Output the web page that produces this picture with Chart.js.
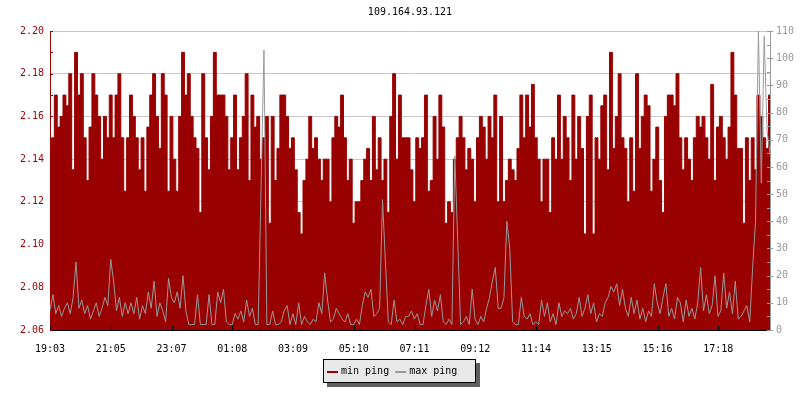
<!DOCTYPE html>
<html>
<head>
<meta charset="utf-8">
<script src="https://cdn.jsdelivr.net/npm/chart.js@4"></script>
<style>
  html, body { margin: 0; padding: 0; background: #fff; }
</style>
</head>
<body>
<canvas id="ping" width="800" height="400"></canvas>
<script>
// donnees
const titre = '109.164.93.121';
const seriesNames = ['min ping', 'max ping'];
const tickLabels = ['19:03', '21:05', '23:07', '01:08', '03:09', '05:10', '07:11', '09:12', '11:14', '13:15', '15:16', '17:18'];

// min ping (echelle de gauche)
const minPing = [
  2.145, 2.15, 2.17, 2.155, 2.16, 2.17, 2.165, 2.18, 2.135, 2.19, 2.17, 2.18, 2.15, 2.13, 2.155, 2.18, 2.17, 2.16, 2.14, 2.16, 2.15, 2.17, 2.15, 2.17, 2.18, 2.15, 2.125, 2.15,
  2.17, 2.16, 2.15, 2.135, 2.15, 2.125, 2.155, 2.17, 2.18, 2.16, 2.145, 2.18, 2.17, 2.125, 2.16, 2.14, 2.125, 2.16, 2.19, 2.17, 2.18, 2.16, 2.15, 2.145, 2.115, 2.18, 2.15, 2.135, 2.16, 2.19, 2.17, 2.17,
  2.17, 2.16, 2.135, 2.15, 2.17, 2.135, 2.15, 2.16, 2.18, 2.13, 2.17, 2.155, 2.16, 2.14, 2.15, 2.16, 2.11, 2.16, 2.13, 2.145, 2.17, 2.17, 2.16, 2.145, 2.15, 2.135, 2.115, 2.105, 2.13, 2.14, 2.16, 2.145,
  2.15, 2.14, 2.13, 2.14, 2.14, 2.12, 2.15, 2.16, 2.155, 2.17, 2.15, 2.13, 2.14, 2.11, 2.12, 2.12, 2.13, 2.14, 2.145, 2.13, 2.16, 2.135, 2.15, 2.13, 2.14, 2.115, 2.16, 2.18, 2.14, 2.17, 2.15, 2.15,
  2.15, 2.135, 2.12, 2.15, 2.145, 2.15, 2.17, 2.125, 2.13, 2.16, 2.14, 2.17, 2.155, 2.11, 2.12, 2.115, 2.14, 2.15, 2.16, 2.15, 2.135, 2.145, 2.14, 2.12, 2.15, 2.16, 2.155, 2.14, 2.16, 2.15, 2.17, 2.12,
  2.16, 2.12, 2.13, 2.14, 2.135, 2.13, 2.145, 2.17, 2.15, 2.17, 2.155, 2.175, 2.15, 2.14, 2.12, 2.14, 2.14, 2.115, 2.15, 2.14, 2.17, 2.14, 2.16, 2.15, 2.13, 2.17, 2.14, 2.16, 2.145, 2.105, 2.16, 2.17,
  2.105, 2.15, 2.14, 2.165, 2.17, 2.135, 2.19, 2.145, 2.16, 2.18, 2.15, 2.145, 2.12, 2.15, 2.125, 2.18, 2.145, 2.16, 2.17, 2.165, 2.125, 2.14, 2.155, 2.13, 2.115, 2.16, 2.17, 2.17, 2.165, 2.18, 2.15, 2.135,
  2.15, 2.14, 2.13, 2.15, 2.16, 2.155, 2.16, 2.15, 2.14, 2.175, 2.13, 2.155, 2.16, 2.15, 2.14, 2.155, 2.19, 2.17, 2.145, 2.145, 2.11, 2.15, 2.13, 2.15, 2.135, 2.17, 2.16, 2.15, 2.145, 2.17
];

// max ping (echelle de droite)
const maxPing = [
  7, 13, 6, 9, 5, 8, 10, 6, 12, 25, 8, 11, 6, 9, 4, 7, 10, 5, 8, 12, 9, 26, 18, 7, 12, 5, 10, 6,
  10, 6, 12, 4, 9, 6, 14, 8, 18, 5, 10, 7, 3, 19, 12, 10, 14, 8, 20, 7, 2, 2, 2, 13, 2, 2, 2, 13, 2, 2, 14, 10,
  15, 3, 2, 2, 6, 4, 7, 3, 11, 5, 8, 2, 2, 53, 103, 2, 2, 7, 2, 2, 3, 7, 9, 2, 6, 2, 10, 2, 5, 3, 2, 4,
  3, 10, 6, 21, 11, 3, 4, 8, 6, 4, 3, 6, 2, 2, 4, 2, 9, 14, 12, 15, 5, 6, 8, 48, 25, 3, 2, 11, 3, 4, 2, 5,
  5, 7, 4, 6, 2, 2, 9, 15, 5, 11, 7, 13, 3, 2, 4, 2, 64, 33, 2, 3, 5, 2, 15, 4, 2, 5, 3, 8, 12, 18, 23, 8,
  8, 12, 40, 30, 3, 2, 2, 12, 5, 4, 6, 2, 3, 2, 11, 5, 10, 3, 6, 2, 10, 5, 7, 6, 8, 4, 6, 12, 5, 8, 13, 6,
  10, 3, 6, 5, 10, 12, 16, 14, 17, 9, 15, 8, 5, 12, 6, 11, 4, 8, 3, 7, 5, 17, 10, 6, 12, 17, 5, 8, 4, 12, 10, 3,
  11, 5, 8, 4, 10, 23, 7, 13, 6, 9, 20, 5, 7, 21, 8, 14, 6, 18, 4, 5, 7, 9, 3, 23, 40, 110, 54, 108, 73, 65
];

// 24 h en minutes depuis 19:03, un libelle toutes les ~121,5 min
const spanMin = 1440;
const tickStep = 121.5;
const pas = spanMin / (minPing.length - 1);

const minPts = minPing.map((v, i) => ({ x: i * pas, y: v }));
const maxPts = maxPing.map((v, i) => ({ x: i * pas, y: v }));

const rouge = '#990000';
const gris = '#999999';
const police = { family: "'DejaVu Sans Mono', monospace", size: 10 };

// titre, petites graduations interieures et legende encadree
const decor = {
  id: 'decor',
  afterDraw(chart) {
    const { ctx, chartArea: a, scales } = chart;
    ctx.save();
    ctx.font = "10px 'DejaVu Sans Mono', monospace";
    ctx.fillStyle = '#000';
    ctx.textAlign = 'center';
    ctx.textBaseline = 'middle';
    ctx.fillText(titre, (a.left + a.right) / 2, 12);

    ctx.lineWidth = 1;
    ctx.strokeStyle = rouge;
    ctx.beginPath();
    for (let v = 206; v <= 220; v++) {
      const y = Math.round(scales.y.getPixelForValue(v / 100)) + 0.5;
      ctx.moveTo(a.left, y);
      ctx.lineTo(a.left + 3, y);
    }
    ctx.stroke();

    ctx.strokeStyle = gris;
    ctx.beginPath();
    for (let v = 0; v <= 110; v += 5) {
      const y = Math.round(scales.y1.getPixelForValue(v)) + 0.5;
      ctx.moveTo(a.right - 3, y);
      ctx.lineTo(v % 10 === 0 ? a.right + 3 : a.right, y);
    }
    ctx.stroke();

    ctx.strokeStyle = '#000';
    ctx.beginPath();
    tickLabels.forEach((t, i) => {
      const x = Math.round(scales.x.getPixelForValue(i * tickStep)) + 0.5;
      ctx.moveTo(x, a.bottom);
      ctx.lineTo(x, a.bottom - 4);
    });
    ctx.stroke();

    // legende
    const lx = 323, ly = 359, lw = 153, lh = 24;
    ctx.fillStyle = '#5f5f5f';
    ctx.fillRect(lx + 4, ly + 4, lw, lh);
    ctx.fillStyle = '#e8e8e8';
    ctx.fillRect(lx, ly, lw, lh);
    ctx.strokeStyle = '#000';
    ctx.strokeRect(lx + 0.5, ly + 0.5, lw - 1, lh - 1);

    const couleurs = [rouge, gris];
    ctx.textAlign = 'left';
    let x = lx + 4;
    seriesNames.forEach((nom, i) => {
      ctx.fillStyle = couleurs[i];
      ctx.fillRect(x, ly + 12, 11, 2);
      ctx.fillStyle = '#000';
      ctx.fillText(nom, x + 14, ly + 12);
      x += 14 + ctx.measureText(nom).width + 6;
    });
    ctx.restore();
  }
};

const config = {
  type: 'line',
  data: {
    datasets: [
      {
        label: seriesNames[0],
        data: minPts,
        yAxisID: 'y',
        stepped: 'middle',
        fill: 'start',
        backgroundColor: rouge,
        borderColor: rouge,
        borderWidth: 1,
        pointRadius: 0,
        order: 2
      },
      {
        label: seriesNames[1],
        data: maxPts,
        yAxisID: 'y1',
        fill: false,
        borderColor: gris,
        borderWidth: 1,
        pointRadius: 0,
        order: 1
      }
    ]
  },
  options: {
    responsive: false,
    animation: false,
    layout: { padding: { top: 31, left: 0, right: 0, bottom: 0 } },
    plugins: {
      legend: { display: false },
      title: { display: false },
      tooltip: { enabled: false }
    },
    scales: {
      x: {
        type: 'linear',
        min: 0,
        max: spanMin,
        afterBuildTicks: s => { s.ticks = tickLabels.map((t, i) => ({ value: i * tickStep })); },
        afterFit: s => { s.height = 70; },
        grid: { display: false },
        border: { display: true, color: '#000' },
        ticks: {
          autoSkip: false,
          maxRotation: 0,
          padding: 5,
          color: '#000',
          font: police,
          callback: (v, i) => tickLabels[i]
        }
      },
      y: {
        position: 'left',
        min: 2.06,
        max: 2.20,
        afterFit: s => { s.width = 50; },
        ticks: {
          stepSize: 0.01,
          autoSkip: false,
          padding: 6,
          color: rouge,
          font: police,
          callback: v => (Math.round(v * 100) % 2 === 0 ? v.toFixed(2) : '')
        },
        grid: {
          drawTicks: false,
          color: c => (Math.round(c.tick.value * 100) % 2 === 0 ? '#c8c8c8' : 'rgba(0,0,0,0)')
        },
        border: { color: rouge }
      },
      y1: {
        position: 'right',
        min: 0,
        max: 110,
        afterFit: s => { s.width = 30; },
        ticks: { stepSize: 10, padding: 6, color: gris, font: police },
        grid: { display: false, drawTicks: false },
        border: { color: gris }
      }
    }
  },
  plugins: [decor]
};

new Chart(document.getElementById('ping').getContext('2d'), config);
</script>
</body>
</html>
